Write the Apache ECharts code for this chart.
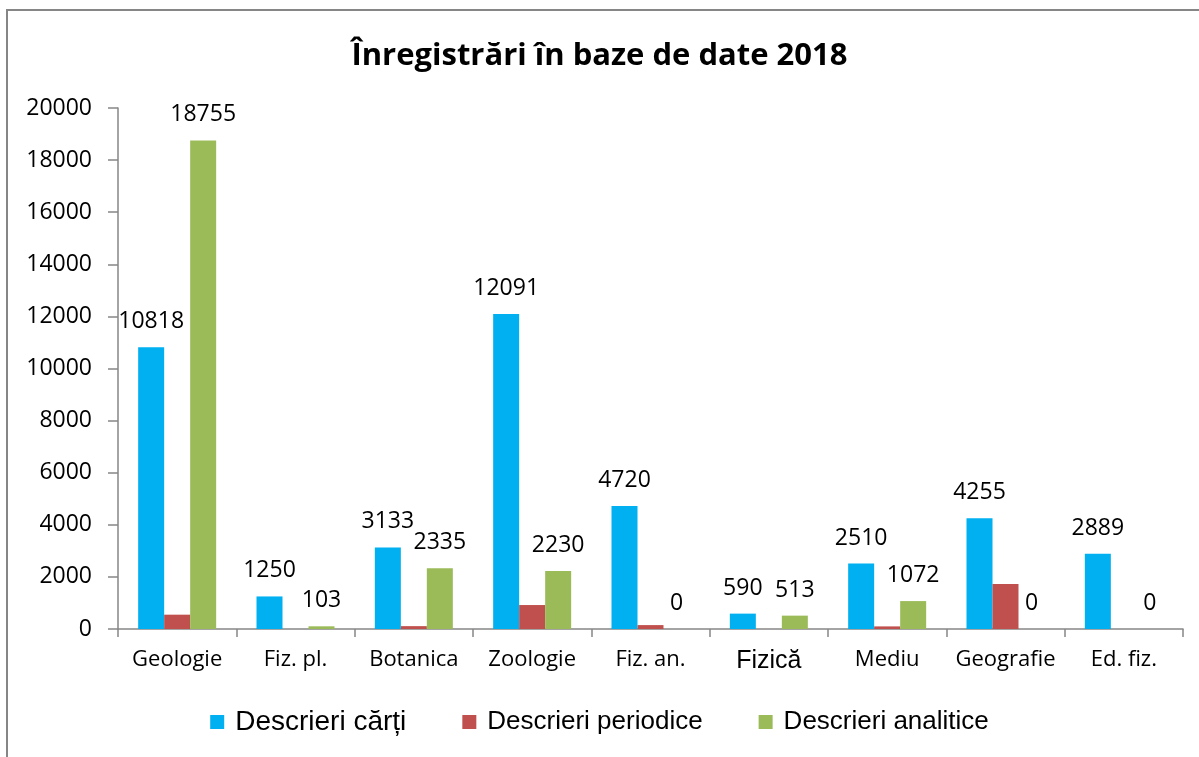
<!DOCTYPE html>
<html>
<head>
<meta charset="utf-8">
<script src="https://cdn.jsdelivr.net/npm/echarts@6/dist/echarts.min.js"></script>
<style>
html,body{margin:0;padding:0;background:#fff;}
#frame{position:absolute;left:6px;top:9px;width:1193px;height:748px;border-top:2px solid #868686;border-left:2px solid #868686;}
#chart{position:absolute;left:0;top:0;width:1199px;height:757px;}
</style>
</head>
<body>
<div id="frame"></div>
<div id="chart"></div>
<script>
// categorii si valori
var categorii = ['Geologie', 'Fiz. pl.', 'Botanica', 'Zoologie', 'Fiz. an.', 'Fizică', 'Mediu', 'Geografie', 'Ed. fiz.'];
var carti = [10818, 1250, 3133, 12091, 4720, 590, 2510, 4255, 2889];
var periodice = [550, 0, 110, 920, 150, 0, 100, 1730, 0];
var analitice = [18755, 103, 2335, 2230, 0, 513, 1072, 0, 0];
var numeSerii = ['Descrieri cărți', 'Descrieri periodice', 'Descrieri analitice'];

var font = 'Open Sans';
var grafic = echarts.init(document.getElementById('chart'));

var etichetaSus = {
  show: true,
  position: 'top',
  distance: 14,
  color: '#000',
  fontFamily: font,
  fontSize: 23
};

var optiune = {
  animation: false,
  title: {
    text: 'Înregistrări în baze de date 2018',
    left: 'center',
    top: 36,
    textStyle: {fontFamily: font, fontWeight: 'bold', fontSize: 31, color: '#000'}
  },
  legend: {
    bottom: 16,
    left: 'center',
    itemWidth: 14,
    itemHeight: 14,
    itemGap: 56,
    icon: 'rect',
    textStyle: {fontFamily: 'Liberation Sans', fontSize: 26, color: '#000', padding: [0, 0, 0, 6]},
    data: [
      {name: numeSerii[0], textStyle: {fontSize: 28, padding: [0, 0, 0, 6]}},
      {name: numeSerii[1]},
      {name: numeSerii[2]}
    ]
  },
  grid: {left: 118, right: 16, top: 108, bottom: 128},
  xAxis: {
    type: 'category',
    data: categorii.map(function(c){
      return c == 'Fizică' ? {value: c, textStyle: {fontFamily: 'Liberation Sans', fontSize: 25}} : c;
    }),
    axisLine: {lineStyle: {color: '#868686', width: 1.5}},
    axisTick: {show: true, length: 8, lineStyle: {color: '#868686', width: 1.5}},
    axisLabel: {color: '#000', fontFamily: font, fontSize: 22, margin: 20, interval: 0}
  },
  yAxis: {
    type: 'value',
    min: 0,
    max: 20000,
    interval: 2000,
    axisLine: {show: true, lineStyle: {color: '#868686', width: 1.5}},
    axisTick: {show: true, length: 10, lineStyle: {color: '#868686', width: 1.5}},
    splitLine: {show: false},
    axisLabel: {color: '#000', fontFamily: font, fontSize: 23, margin: 26,
      formatter: function(v){ return String(v); }}
  },
  series: [
    {name: numeSerii[0], type: 'bar', data: carti, barWidth: 26, barGap: '0%',
     itemStyle: {color: '#00B0F0'}, label: etichetaSus},
    {name: numeSerii[1], type: 'bar', data: periodice, barWidth: 26,
     itemStyle: {color: '#C0504D'}},
    {name: numeSerii[2], type: 'bar', data: analitice, barWidth: 26,
     itemStyle: {color: '#9BBB59'}, label: etichetaSus}
  ]
};
grafic.setOption(optiune);
</script>
</body>
</html>
